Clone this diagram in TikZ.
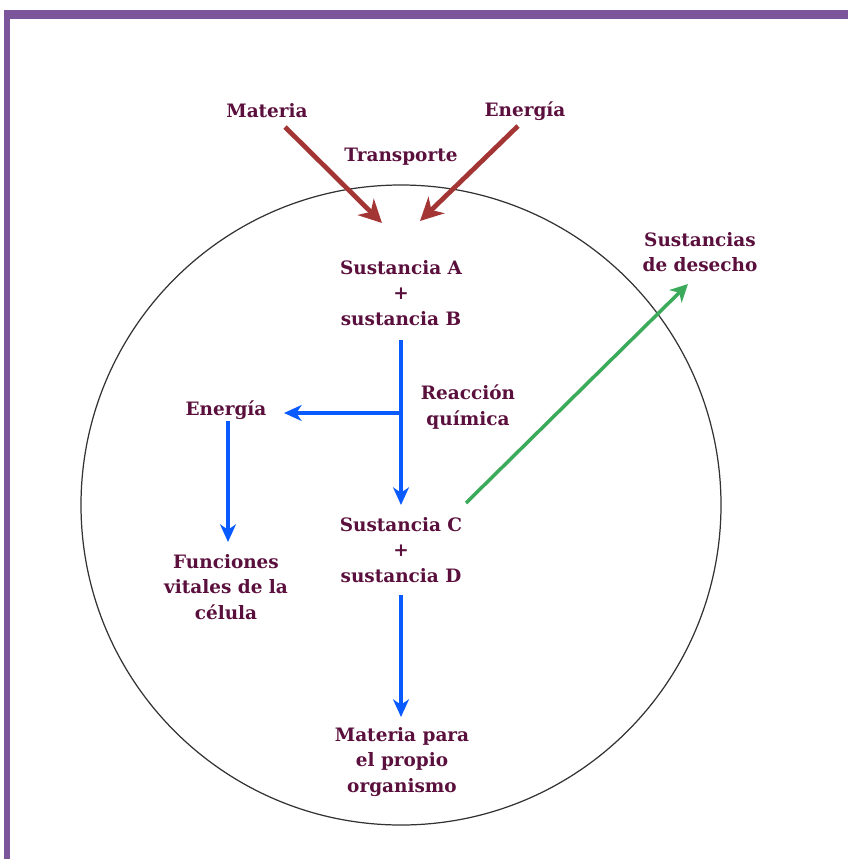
\documentclass[tikz,border=0pt]{standalone}
\usepackage{fontspec}
\setmainfont{DejaVu Serif}
\usepackage{tikz}
\usetikzlibrary{arrows.meta}
\usepackage{xcolor}

\definecolor{frame}{HTML}{7B569B}
\definecolor{label}{HTML}{5A0F3C}
\definecolor{inflow}{HTML}{A33535}
\definecolor{flow}{HTML}{0A5BFF}
\definecolor{waste}{HTML}{3BAA5A}

\tikzset{
  txt/.style={text=label, font=\bfseries\fontsize{10.5}{14.5}\selectfont, align=center, inner sep=0pt},
  redarrow/.style={inflow, line width=2.7pt, -{Stealth[length=13pt, width=13pt, inset=4pt]}},
  bluearrow/.style={flow, line width=2pt, -{Stealth[length=10pt, width=9pt, inset=3pt]}},
  greenarrow/.style={waste, line width=2pt, -{Stealth[length=10pt, width=10pt, inset=3pt]}}
}

\begin{document}
\begin{tikzpicture}[x=0.02cm, y=-0.02cm]
  \useasboundingbox (0,0) rectangle (848,859);

  % Frame (top and left bars)
  \fill[frame] (4,10) rectangle (848,19);
  \fill[frame] (4,10) rectangle (10,859);

  % Cell
  \draw[black!80, line width=0.7pt] (401,505) circle (320);

  % Labels
  \node[txt] (mat) at (267,111) {Materia};
  \node[txt] (ene) at (525,111) {Energía};
  \node[txt] (trans) at (401,157) {Transporte};
  \node[txt] (ab) at (401,293) {Sustancia A\\+\\sustancia B};
  \node[txt] (reac) at (468,407) {Reacción\\química};
  \node[txt] (eneL) at (226,410) {Energía};
  \node[txt] (func) at (226,587) {Funciones\\vitales de la\\célula};
  \node[txt] (cd) at (401,550) {Sustancia C\\+\\sustancia D};
  \node[txt] (org) at (402,762) {Materia para\\el propio\\organismo};
  \node[txt] (des) at (700,252) {Sustancias\\de desecho};

  % Coordinates
  \coordinate (matS) at (285,127);
  \coordinate (eneS) at (518,126);
  \coordinate (inA) at (382,223);
  \coordinate (inB) at (420,221);
  \coordinate (abS) at (401,340);
  \coordinate (cdN) at (401,505);
  \coordinate (J) at (401,413);
  \coordinate (eneR) at (284,413);
  \coordinate (eneLS) at (228,421);
  \coordinate (funcN) at (228,542);
  \coordinate (cdS) at (401,595);
  \coordinate (orgN) at (401,717);
  \coordinate (cdE) at (466,503);
  \coordinate (desS) at (688,284);

  % Inflow (transport)
  \draw[redarrow] (matS) -- (inA);
  \draw[redarrow] (eneS) -- (inB);

  % Reaction
  \draw[bluearrow] (abS) -- (cdN);
  \draw[bluearrow] (J) -- (eneR);
  \draw[bluearrow] (eneLS) -- (funcN);
  \draw[bluearrow] (cdS) -- (orgN);

  % Waste
  \draw[greenarrow] (cdE) -- (desS);
\end{tikzpicture}
\end{document}
